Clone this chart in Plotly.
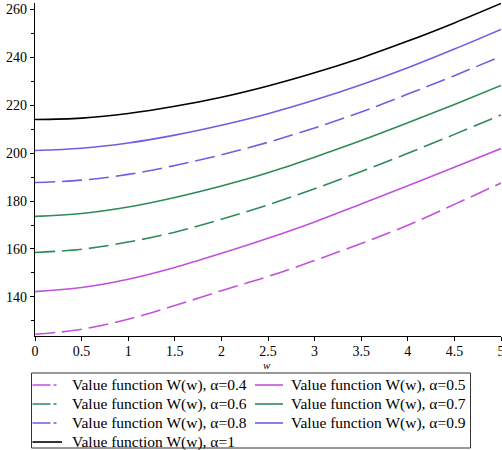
import plotly.graph_objects as go

w = [0, 0.5, 1, 1.5, 2, 2.5, 3, 3.5, 4, 4.5, 5]
W_a04 = [124.4, 126.5, 130.7, 136.4, 142.6, 148.5, 155.2, 162.3, 169.9, 178.6, 187.5]
W_a05 = [142.2, 143.9, 147.4, 152.3, 158.2, 164.5, 171.3, 178.8, 186.4, 194.1, 201.9]
W_a06 = [158.5, 159.9, 162.9, 167.0, 172.4, 178.4, 185.1, 192.3, 199.9, 207.8, 215.9]
W_a07 = [173.6, 174.8, 177.5, 181.5, 186.3, 191.8, 198.3, 205.2, 212.6, 220.3, 228.2]
W_a08 = [187.7, 188.7, 191.1, 194.8, 199.3, 204.5, 210.5, 217.1, 224.6, 232.3, 240.4]
W_a09 = [201.1, 202.0, 204.2, 207.5, 211.6, 216.4, 222.1, 228.5, 235.6, 243.4, 251.6]
W_a10 = [214.0, 214.6, 216.5, 219.5, 223.3, 228.0, 233.5, 239.7, 246.7, 254.3, 262.4]

labels = ["Value function W(w), α=0.4", "Value function W(w), α=0.5",
          "Value function W(w), α=0.6", "Value function W(w), α=0.7",
          "Value function W(w), α=0.8", "Value function W(w), α=0.9",
          "Value function W(w), α=1"]
series = [W_a04, W_a05, W_a06, W_a07, W_a08, W_a09, W_a10]
colors = ["#C54FDC", "#C54FDC", "#2E8B57", "#2E8B57", "#6E5FE0", "#6E5FE0", "#000000"]
dashes = ["20px,7px", "solid", "20px,7px", "solid", "20px,7px", "solid", "solid"]
legend_dashes = ["18px,3px,3px,20px", "solid", "18px,3px,3px,20px", "solid",
                 "18px,3px,3px,20px", "solid", "solid"]

W_PX, H_PX = 502, 450
L, R, T, B = 35, 1, 3, 114
pw, ph = W_PX - L - R, H_PX - T - B


def px(xp):
    return (xp - L) / pw


def py(yp):
    return (H_PX - B - yp) / ph


fig = go.Figure()
for lab, ys, c, d in zip(labels, series, colors, dashes):
    fig.add_trace(go.Scatter(x=w, y=ys, mode="lines", name=lab, line_shape="spline",
                             line=dict(color=c, width=1.6, dash=d), showlegend=False))

font = "Liberation Serif, Times New Roman, serif"

shapes = [dict(type="rect", xref="paper", yref="paper", x0=px(31.5), x1=px(470.5),
               y0=py(373), y1=py(448), line=dict(color="#333", width=1), fillcolor="white",
               layer="above")]
annotations = []
col_sym = [(32.5, 62), (255, 283)]
col_txt = [70, 289]
row_y = [385, 404, 423, 442]
for i, (lab, c, d) in enumerate(zip(labels, colors, legend_dashes)):
    r, k = divmod(i, 2)
    yy = row_y[r]
    shapes.append(dict(type="line", xref="paper", yref="paper", x0=px(col_sym[k][0]),
                       x1=px(col_sym[k][1]), y0=py(yy), y1=py(yy),
                       line=dict(color=c, width=1.6, dash=d), layer="above"))
    annotations.append(dict(xref="paper", yref="paper", x=px(col_txt[k]), y=py(yy),
                            xanchor="left", yanchor="middle", showarrow=False, text=lab,
                            font=dict(family=font, size=15.5, color="black")))
annotations.append(dict(xref="paper", yref="paper", x=px(267), y=py(365), showarrow=False,
                        text="<i>w</i>", font=dict(family=font, size=11, color="black"),
                        xanchor="center", yanchor="middle"))

fig.update_layout(
    width=W_PX, height=H_PX,
    margin=dict(l=L, r=R, t=T, b=B, autoexpand=False),
    plot_bgcolor="white", paper_bgcolor="white",
    font=dict(family=font, size=14, color="black"),
    showlegend=False,
    shapes=shapes, annotations=annotations,
    xaxis=dict(range=[0, 5], tickmode="array", tickvals=[0, 0.5, 1, 1.5, 2, 2.5, 3, 3.5, 4, 4.5, 5],
               ticktext=["0", "0.5", "1", "1.5", "2", "2.5", "3", "3.5", "4", "4.5", "5"],
               showline=True, linecolor="black", linewidth=1.3, ticks="outside", ticklen=4,
               tickcolor="black", showgrid=False, zeroline=False, automargin=False,
               ticklabeloverflow="allow", ticklabelstandoff=-2),
    yaxis=dict(range=[123.7, 262.6], tickvals=[140, 160, 180, 200, 220, 240, 260],
               showline=True, linecolor="black", linewidth=1.3, ticks="outside", ticklen=4,
               tickcolor="black", showgrid=False, zeroline=False, automargin=False,
               minor=dict(tickvals=[130, 150, 170, 190, 210, 230, 250], ticks="outside",
                          ticklen=3, tickcolor="black", showgrid=False)),
)
fig.write_html("out.html", config={"displayModeBar": False},
               post_script="document.body.style.margin='0';")
